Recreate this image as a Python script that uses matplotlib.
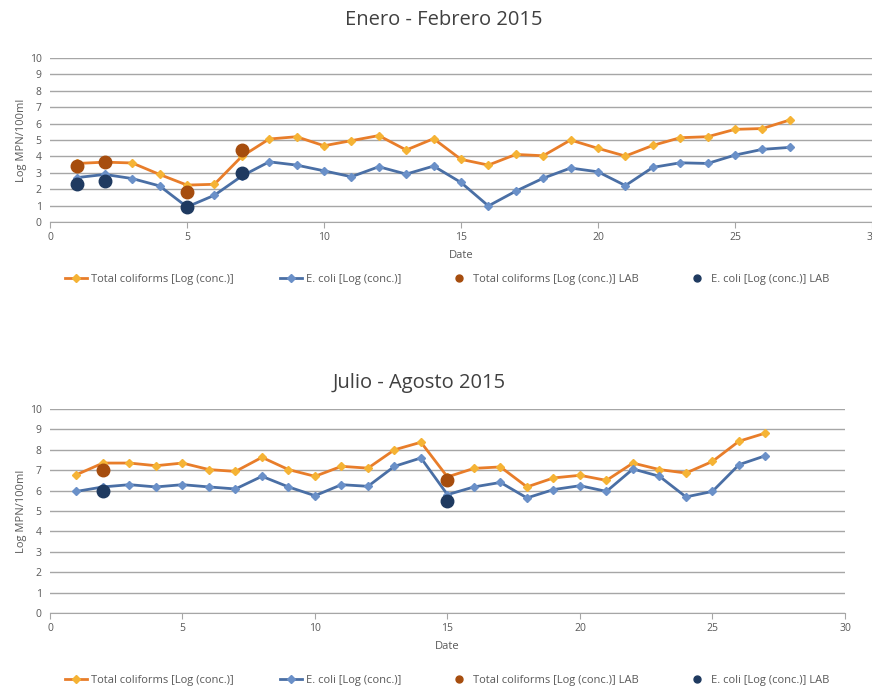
import matplotlib
matplotlib.use("Agg")
import matplotlib.pyplot as plt
from matplotlib.lines import Line2D

plt.rcParams['font.family'] = ['Open Sans', 'DejaVu Sans']

# Enero - Febrero 2015
days_jan = list(range(1, 28))
total_jan = [3.57, 3.65, 3.6, 2.9, 2.25, 2.3, 4.0, 5.06, 5.2, 4.65, 4.96, 5.27, 4.39, 5.08,
             3.82, 3.47, 4.12, 4.04, 5.0, 4.49, 4.02, 4.67, 5.14, 5.2, 5.65, 5.7, 6.22]
ecoli_jan = [2.71, 2.9, 2.65, 2.2, 0.92, 1.63, 2.8, 3.67, 3.47, 3.12, 2.76, 3.37, 2.92, 3.41,
             2.41, 0.98, 1.88, 2.67, 3.29, 3.06, 2.22, 3.33, 3.61, 3.57, 4.08, 4.43, 4.55]
lab_days_jan = [1, 2, 5, 7]
lab_total_jan = [3.43, 3.65, 1.82, 4.39]
lab_ecoli_jan = [2.29, 2.49, 0.92, 2.96]

# Julio - Agosto 2015
days_jul = list(range(1, 28))
total_jul = [6.78, 7.35, 7.35, 7.22, 7.35, 7.03, 6.94, 7.63, 7.03, 6.7, 7.19, 7.1, 8.0, 8.37,
             6.67, 7.09, 7.16, 6.18, 6.62, 6.75, 6.5, 7.35, 7.03, 6.86, 7.43, 8.42, 8.82]
ecoli_jul = [5.96, 6.18, 6.29, 6.18, 6.29, 6.18, 6.08, 6.7, 6.18, 5.75, 6.29, 6.21, 7.19, 7.6,
             5.8, 6.18, 6.4, 5.64, 6.05, 6.24, 5.96, 7.06, 6.7, 5.69, 5.96, 7.27, 7.71]
lab_days_jul = [2, 15]
lab_total_jul = [7.03, 6.54]
lab_ecoli_jul = [6.0, 5.5]

labels = ["Total coliforms [Log (conc.)]", "E. coli [Log (conc.)]",
          "Total coliforms [Log (conc.)] LAB", "E. coli [Log (conc.)] LAB"]

c_total_line = '#E87D2A'
c_total_mk = '#F5B335'
c_ecoli_line = '#4A6FA5'
c_ecoli_mk = '#6A90C8'
c_lab_total = '#A64D0E'
c_lab_ecoli = '#1F3A60'
text_col = '#595959'

fig = plt.figure(figsize=(8.72, 6.89), dpi=100)


def draw(ax, days, total, ecoli, lab_days, lab_total, lab_ecoli):
    ax.plot(days, total, color=c_total_line, lw=2, marker='D', ms=4,
            mfc=c_total_mk, mec=c_total_mk, zorder=3)
    ax.plot(days, ecoli, color=c_ecoli_line, lw=2, marker='D', ms=4,
            mfc=c_ecoli_mk, mec=c_ecoli_mk, zorder=3)
    ax.plot(lab_days, lab_total, ls='none', marker='o', ms=9, color=c_lab_total, zorder=4)
    ax.plot(lab_days, lab_ecoli, ls='none', marker='o', ms=9, color=c_lab_ecoli, zorder=4)
    ax.set_xlim(0, 30)
    ax.set_ylim(0, 10)
    ax.set_xticks(range(0, 31, 5))
    ax.set_yticks(range(0, 11))
    ax.grid(axis='y', color='#a6a6a6', lw=1)
    ax.set_axisbelow(True)
    for s in ['top', 'right', 'left']:
        ax.spines[s].set_visible(False)
    ax.spines['bottom'].set_color('#a6a6a6')
    ax.tick_params(axis='x', colors='#a6a6a6', labelcolor=text_col, labelsize=7.5,
                   length=4, direction='out')
    ax.tick_params(axis='y', length=0, labelcolor=text_col, labelsize=7.5, pad=6)
    ax.set_xlabel('Date', fontsize=8, color=text_col, labelpad=5)
    ax.set_ylabel('Log MPN/100ml', fontsize=8, color=text_col, labelpad=2)


ax1 = fig.add_axes([0.0573, 0.6778, 0.9427, 0.238])
draw(ax1, days_jan, total_jan, ecoli_jan, lab_days_jan, lab_total_jan, lab_ecoli_jan)

ax2 = fig.add_axes([0.0573, 0.1103, 0.9117, 0.2961])
draw(ax2, days_jul, total_jul, ecoli_jul, lab_days_jul, lab_total_jul, lab_ecoli_jul)

fig.text(0.509, 0.971, 'Enero - Febrero 2015', ha='center', va='center', fontsize=14.5, color='#404040')
fig.text(0.481, 0.444, 'Julio - Agosto 2015', ha='center', va='center', fontsize=14.5, color='#404040')

handles = [
    Line2D([], [], color=c_total_line, lw=2, marker='D', ms=4, mfc=c_total_mk, mec=c_total_mk),
    Line2D([], [], color=c_ecoli_line, lw=2, marker='D', ms=4, mfc=c_ecoli_mk, mec=c_ecoli_mk),
    Line2D([], [], ls='none', marker='o', ms=5, color=c_lab_total),
    Line2D([], [], ls='none', marker='o', ms=5, color=c_lab_ecoli),
]
for y in (0.594, 0.013):
    fig.legend(handles, labels, loc='center', bbox_to_anchor=(0.513, y), ncol=4, frameon=False,
               fontsize=8, labelcolor=text_col, handlelength=2.0, handletextpad=0.3,
               columnspacing=4.2)

fig.savefig('out.png', dpi=100)
